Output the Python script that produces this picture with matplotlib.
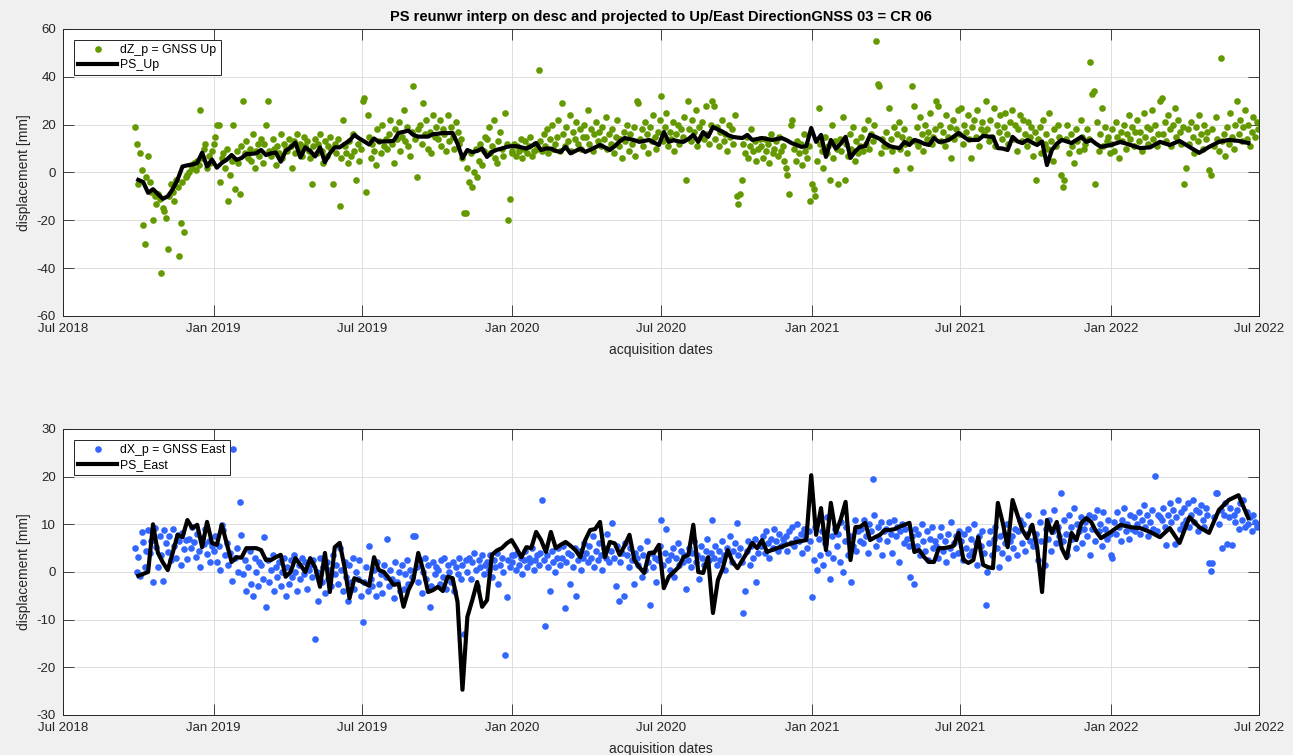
import numpy as np
import pandas as pd
import matplotlib
matplotlib.use('Agg')
import matplotlib.pyplot as plt
import matplotlib.dates as mdates


# GNSS solutions, one value every 2nd day, one list per year [mm]
gnss_up_2018 = [19, 12,
                -5, 8, 1, -22, -30, -2, 7, -4, -8, -20, -10, -13, -9, -11, -42, -15,
                -16, -19, -32, -10, -5, -8, -12, -3, -6, -35, -21, -4, -25, -2, -1,
                0, 3, 2, 4, 1, 5, 3, 26, 6, 10, 12, 2, 7, 4, 9]
gnss_up_2019 = [12, 15, 20, 20, -4, 6, 8, 2, 10, -12, -1, 5, 20, -7, 9, 4,
                -9, 11, 30, 8, 13, 6, 10, 5, 16, 2, 9, 12, 7, 14,
                4, 12, 20, 30, 9, 7, 14, 10, 3, 11, 8, 16, 6, 12, 10,
                9, 14, 11, 2, 13, 8, 16, 10, 12, 7, 15, 11, 13, 9, 6,
                -5, 11, 14, 8, 12, 16, 9, 4, 13, 7, 11, 15, 10, -5, 12, 8,
                14, -14, 6, 22, 11, 8, 4, 13, 7, 16, 9, -3, 12, 5, 10,
                30, 31, -8, 24, 15, 6, 12, 9, 3, 18, 13, 8, 20, 11, 14,
                10, 16, 22, 12, 4, 18, 14, 21, 9, 15, 26, 13, 19, 11, 7, 17,
                36, 14, -2, 18, 20, 12, 29, 16, 22, 10, 17, 8, 24, 15, 19,
                14, 22, 11, 18, 16, 9, 24, 13, 19, 15, 10, 21, 17, 12, 14,
                6, -17, -17, 2, -4, 8, -6, 0, 10, -2, 5, 12, 3, 9, 15,
                14, 19, 8, 11, 22, 6, 4, 13, 17, 10, 7, 25, 12, -20, -11, 9]
gnss_up_2020 = [8, 12, 7, 11, 9, 14, 6, 10, 13, 8, 11, 15, 7, 9, 12, 10,
                43, 13, 9, 16, 11, 18, 8, 14, 20, 10, 12, 15, 22, 9,
                29, 16, 11, 19, 13, 24, 9, 17, 14, 21, 12, 18, 10, 15, 20,
                15, 26, 12, 18, 9, 16, 21, 13, 17, 11, 19, 14, 23, 10, 16,
                12, 18, 8, 15, 22, 11, 14, 6, 17, 13, 20, 9, 16, 12, 19, 7,
                30, 29, 14, 18, 11, 21, 16, 8, 19, 13, 24, 15, 10, 17, 22,
                32, 13, 19, 25, 11, 17, 14, 21, 9, 16, 20, 12, 18, 15, 23,
                -3, 30, 18, 13, 22, 17, 26, 11, 19, 15, 21, 14, 28, 16, 12, 20,
                30, 28, 14, 19, 11, 17, 22, 13, 16, 9, 20, 15, 18, 12, 24,
                -10, -13, -9, -3, 12, 8, 15, 6, 11, 18, 9, 13, 5, 10, 14,
                11, 6, 14, 9, 12, 4, 16, 8, 10, 13, 7, 15, 9, 11, 5,
                2, -1, -9, 20, 22, 10, 5, 13, 8, 12, 3, 16, 9, 6, 11, -12]
gnss_up_2021 = [-5, -7, -10, 5, 27, 12, 9, 2, 15, 8, 11, -3, 20, 6, 13, 10,
                -5, 14, 9, 23, -3, 12, 7, 16, 10, 19, 5, 13, 8, 11,
                15, 9, 18, 12, 22, 10, 16, 13, 20, 55, 37, 36, 8, 14, 11,
                17, 11, 27, 14, 9, 19, 1, 16, 21, 10, 15, 18, 12, 8, 14,
                2, 36, 28, 13, 19, 11, 23, 16, 9, 20, 14, 17, 25, 12, 15, 18,
                30, 28, 20, 13, 17, 11, 24, 15, 19, 6, 22, 14, 18, 26, 16,
                27, 12, 20, 17, 24, 14, 6, 19, 22, 15, 26, 11, 18, 21, 16,
                30, 18, 13, 22, 15, 27, 11, 20, 17, 24, 14, 19, 25, 16, 12, 21,
                26, 14, 20, 9, 18, 24, 13, 22, 16, 11, 21, 15, 19, 7, 17,
                -3, 14, 19, 8, 22, 12, 16, 10, 25, 13, 5, 18, 11, 20, 15,
                -1, -6, -3, 14, 20, 8, 16, 11, 4, 18, 13, 9, 22, 15, 10,
                12, 18, 14, 46, 33, 34, -5, 21, 9, 16, 27, 11, 19, 13, 15, 8]
gnss_up_2022 = [12, 18, 9, 21, 15, 6, 17, 13, 20, 10, 16, 24, 14, 19, 11, 17,
                22, 13, 17, 9, 25, 15, 19, 12, 18, 26, 14, 20, 11, 16,
                30, 31, 16, 21, 13, 24, 18, 11, 20, 27, 15, 22, 17, 12, 19,
                -5, 2, 18, 12, 21, 15, 8, 19, 13, 24, 16, 10, 20, 14, 17,
                1, -1, 18, 11, 23, 14, 9, 48, 13, 16, 7, 19, 12, 25, 15, 10,
                20, 30, 16, 22, 13, 19, 26, 14, 20, 11, 17, 23, 15, 21, 18]

gnss_east_2018 = [5.0, 0.0,
                  3.1, -0.8, 8.4, 6.3, 1.0, 4.5, 8.8, 4.0, 6.5, -2.1, 9.2, 5.2, 1.0, 7.5, 3.5, -1.8,
                  8.8, 6.0, 4.2, 7.5, 2.5, 9.0, 5.5, 3.0, 7.8, 6.5, 1.5, 8.2, 4.8, 6.8, 2.8,
                  7.0, 5.0, 9.5, 6.2, 3.2, 8.0, 4.5, 1.0, 7.2, 5.8, 9.0, 3.8, 6.5, 2.0, 5.5]
gnss_east_2019 = [4.5, 7.5, 2.0, 5.5, 0.5, 9.8, 8.8, 3.5, 6.0, 1.5, 4.0, -1.8, 25.8, 3.0, 5.0, 0.0,
                  14.7, 7.8, -0.5, 2.5, -4.0, 1.0, 4.5, -2.5, -5.0, 3.0, 0.0, -3.0, 2.0, 1.5,
                  -1.5, 7.3, -7.3, 2.5, -2.0, 0.5, 3.5, -4.0, 1.0, -1.0, 2.0, -3.0, 0.0, 3.0, -5.0,
                  1.0, -2.5, 2.5, -1.0, 3.5, 0.0, -4.0, 1.5, -1.5, 3.0, -0.5, 2.0, -3.5, 0.5, 1.5,
                  -1.0, 2.5, -14.0, 0.0, -6.0, 3.0, -2.0, 1.0, -4.5, 2.0, -1.5, 0.5, -3.0, 3.5, -0.5, 1.5,
                  -2.5, 5.0, 0.5, -4.0, 2.0, -1.0, -6.0, 1.5, -2.0, 3.0, -3.5, 0.0, -1.5, 2.5, -5.0,
                  -10.5, -2.0, 1.0, -4.0, 5.5, -1.5, -3.0, 0.5, -5.0, 2.0, -2.5, -0.5, -4.5, 1.5, -1.0,
                  7.0, -3.0, 0.5, -1.5, -5.5, 2.0, -2.0, 0.0, -4.0, 1.5, -3.5, -0.5, 2.5, -2.5, 0.5, -1.0,
                  7.5, 7.5, 1.0, -2.0, 2.5, -4.5, 0.0, 3.0, -1.5, 1.5, -7.3, -3.0, 2.0, -0.5, 1.0,
                  0.5, -2.5, 2.5, -1.0, 3.0, -3.5, 1.5, 0.0, -2.0, 2.0, -4.0, 1.0, -0.5, 3.0, -1.5,
                  1.5, -13.0, 2.5, 0.0, 3.0, -1.5, 2.0, 4.0, 0.5, -3.0, 2.5, 1.0, 3.5, -0.5, 1.5,
                  2.0, 0.5, 3.5, -1.0, 2.5, 1.0, 4.0, -2.5, 1.5, 3.0, 0.0, -17.4, -5.2, 2.5, 1.0, 3.5]
gnss_east_2020 = [2.0, 3.5, 0.5, 4.0, 1.5, 3.0, -0.5, 2.5, 4.5, 1.0, 3.0, 2.0, 5.0, 0.5, 2.5, 3.5,
                  1.5, 4.0, 15.1, 2.5, -11.3, 3.5, 1.0, -4.0, 4.5, 2.0, 0.0, 3.0, 5.0, 1.5,
                  3.0, 5.5, -7.6, 2.0, 4.0, -2.5, 3.5, 1.0, 5.0, -5.0, 2.5, 4.5, 0.5, 3.0, 6.0,
                  4.0, 2.0, 5.5, 3.0, 7.5, 1.0, 4.5, 2.5, 6.0, 3.5, 0.5, 5.0, 3.0, 8.0, 2.0,
                  4.5, 10.3, 3.0, -3.0, 5.5, -6.0, 2.0, 4.0, -5.0, 6.0, 3.5, 1.0, 5.0, 2.5, -2.5, 4.0,
                  3.0, 1.5, 5.0, -1.0, 3.5, 0.5, 6.5, 2.0, -6.9, 4.0, 1.0, 3.0, -2.0, 2.5, 5.5,
                  10.9, 1.5, 4.0, 9.0, 2.5, 0.5, 3.5, 5.0, -1.0, 3.0, 6.0, 1.5, 4.5, 2.0, 3.5,
                  -3.5, 2.5, 5.0, 1.0, 4.0, 6.5, 2.0, 3.5, -1.5, 5.5, 3.0, 1.5, 4.5, 7.0, 2.5, 4.0,
                  10.9, 3.0, 5.5, 1.5, 4.5, 2.5, 6.5, 3.5, 0.5, 5.0, 4.0, 7.5, 2.0, 4.5, 6.0,
                  10.3, 3.5, 5.0, 2.0, -8.6, -4.0, 4.5, 6.5, 1.5, 5.5, 3.0, 7.0, -2.0, 4.0, 6.0,
                  5.5, 7.5, 4.0, 8.5, 6.0, 3.0, 7.0, 5.0, 9.0, 6.5, 4.5, 8.0, 5.5, 7.0, 6.0,
                  7.5, 4.5, 8.5, 6.0, 9.5, 5.5, 7.0, 10.0, 6.5, 8.0, 4.0, 9.0, 7.5, 5.0, 8.5, 6.5]
gnss_east_2021 = [-5.2, 2.5, 9.5, 0.5, 7.0, 3.5, 8.5, 1.5, 6.0, 11.5, 4.0, -1.5, 7.5, 3.0, 9.0, 5.5,
                  8.0, 2.0, 10.5, 0.0, 6.5, 9.5, 3.5, 7.5, -2.0, 5.5, 11.0, 4.5, 8.5, 6.5,
                  9.0, 6.0, 11.0, 7.5, 4.0, 10.0, 8.5, 19.5, 12.0, 5.5, 9.5, 7.0, 10.5, 3.5, 8.5,
                  9.0, 6.5, 10.5, 8.0, 4.0, 11.0, 7.5, 9.5, 2.0, 8.5, 10.0, 6.0, 9.0, 7.0, 5.5,
                  -1.0, 7.5, -2.5, 9.0, 5.5, 8.0, 3.5, 10.0, 6.5, 4.5, 8.5, 2.5, 7.0, 9.5, 5.0, 6.5,
                  5.5, 3.0, 7.5, 9.5, 4.5, 6.5, 2.0, 8.0, 5.0, 10.5, 3.5, 6.0, 7.5, 4.0, 8.5,
                  6.5, 2.5, 8.0, 5.0, 9.0, 3.5, 7.0, 4.5, 10.0, 6.0, 1.5, 7.5, 5.5, 8.5, 4.0,
                  -7.0, 0.0, 6.0, 8.5, 3.5, 7.0, 9.5, 5.0, 1.0, 7.5, 4.0, 8.0, 6.0, 10.0, 3.0, 6.5,
                  7.5, 5.0, 9.0, 3.5, 8.5, 11.0, 6.0, 10.0, 4.5, 8.0, 12.0, 6.5, 9.5, 5.5, 7.0,
                  8.0, 2.5, 10.5, 6.5, 12.5, 1.5, 9.0, 7.0, 11.0, 4.5, 8.5, 13.0, 6.0, 9.5, 7.5,
                  16.6, 6.5, 11.0, 8.0, 3.5, 12.0, 9.5, 7.0, 13.5, 5.0, 10.0, 8.5, 11.5, 6.0, 9.0,
                  10.5, 7.5, 12.0, 3.5, 9.0, 11.5, 6.5, 13.0, 8.5, 10.0, 5.5, 12.5, 9.0, 7.0, 11.0, 8.0]
gnss_east_2022 = [3.5, 3.0, 10.5, 8.0, 12.5, 9.5, 6.5, 11.0, 13.5, 8.5, 10.0, 7.0, 12.0, 9.0, 11.5, 8.5,
                  10.0, 12.5, 8.0, 11.0, 14.0, 9.5, 12.0, 7.5, 10.5, 13.0, 9.0, 20.1, 8.5, 12.0,
                  11.5, 11.0, 13.5, 9.5, 5.7, 12.0, 14.5, 10.5, 13.0, 5.9, 11.5, 15.0, 9.0, 12.5, 10.0,
                  13.5, 11.0, 14.5, 9.5, 12.0, 15.0, 10.5, 13.0, 8.5, 12.5, 14.0, 11.0, 9.5, 13.5, 12.0,
                  1.9, 0.2, 1.9, 11.5, 16.5, 16.5, 10.0, 13.0, 5.0, 12.0, 14.5, 5.9, 11.5, 13.5, 5.7, 12.0,
                  10.5, 13.0, 9.0, 14.5, 11.0, 15.0, 9.5, 12.5, 10.0, 11.5, 8.5, 12.0, 10.5, 9.5, 10.0]

gnss_year_start = ['2018-09-27', '2019-01-01', '2020-01-01', '2021-01-01', '2022-01-01']

# PS time series: 6 day repeat (S1A+S1B) until Dec 2021, 12 day afterwards
ps_start_6d = '2018-10-01'
ps_start_12d = '2022-01-01'

ps_up_6d = [-3.1, -4, -8.5, -7, -9, -11, -10, -7, -3, 2.5, 3, 3.3, 4, 8.3, 2.5, 5.4,
            2, 4, 5.3, 7.3, 5.3, 6, 7.7, 7.8, 8, 9.4, 7.3, 8, 8.3, 4.5, 9, 10.5,
            12.5, 6.3, 10.5, 9, 6.7, 10.5, 4.3, 8, 10.5, 10.5, 12, 13.3, 15.7, 14.2, 13, 11.7,
            14.2, 12.8, 13, 13, 13.3, 16.5, 17, 17.5, 15.7, 15, 15, 15, 16, 16.2, 16.5, 16.5,
            16.5, 12, 6, 9.4, 8.5, 9, 10, 6.5, 8.6, 9.5, 10, 10.7, 11, 11, 10.5, 10,
            11, 12.3, 9.4, 10, 10, 9, 8.6, 10.7, 8, 9, 10, 8.6, 9.5, 10.5, 11.5, 10.5,
            9.4, 11, 13, 14.4, 14, 13.5, 12.8, 13.2, 13.6, 12.5, 11.5, 16.9, 12.8, 13.5, 13, 12.8,
            14, 15.7, 12.8, 16.9, 14.9, 19, 18, 17, 15.7, 14.9, 14.6, 14.4, 15.7, 13.6, 14, 14.4,
            14, 13.6, 14, 14.4, 13.5, 12.3, 11.5, 10.7, 11, 18.6, 12.8, 15.7, 6.5, 13.6, 10, 12,
            14.9, 6.1, 9, 10.7, 11, 15.7, 15, 14, 12.3, 11, 10.5, 10.2, 12.8, 11.5, 13.6, 13,
            12, 11.5, 14.4, 12.8, 13, 13.6, 15, 16.5, 15, 13.6, 13.6, 13.6, 15.3, 15, 14.9, 10.2,
            10, 9.4, 14.9, 13, 12.3, 13.6, 12.5, 11.5, 13, 3.1, 9.4, 12, 13.6, 13, 12.3, 13.6,
            14.9, 12.8, 13.6, 12, 10.7]
ps_up_12d = [11.5, 12.8, 11.5, 10.2, 10.5, 12.8, 11.5, 13.2, 10.7, 8.2, 10.7, 12.8, 13.6, 13.2, 12.3]

ps_east_6d = [-0.8, -0.4, 0, 10, 4, 2, 0.4, 4, 7.8, 7.3, 10.9, 9.2, 9.9, 5.2, 10.5, 6.1,
              5.7, 9.9, 6, 2.1, 3.1, 3, 5, 5, 5, 4.6, 2.5, 2.5, 3.1, 3.6, -1, 0,
              2.9, 1.5, 0, 2.9, 1, -3.1, 4, -4.2, 5.2, 6.1, 1, -5.5, -1.3, -1.8, -2.3, -2.9,
              3.1, 0.4, 0, -1.3, -2.7, -2.5, -7.3, -3.8, -1.7, 4, 0.4, -4.2, -3.8, -3.1, -4, -1,
              -1.3, -6.3, -24.7, -9.4, -5.9, -2.1, -7.3, -5.9, 3.6, 4.5, 5, 6, 6.7, 5, 3.1, 5.2,
              5, 8.4, 6.7, 4.2, 8.4, 5, 5.7, 6.3, 5.5, 4.6, 3.1, 6.7, 8.8, 9, 10.5, 3.1,
              6.3, 6, 3.6, 5.5, 7.8, 2.5, 1, -0.2, 4, 4, 5.7, -3.4, -1, 0, 1, 3.1,
              3.6, 9.9, 0, -0.2, 3.1, -8.6, -1.7, 0.8, 4.6, 2.1, 0.8, 2.5, 4.2, 6.1, 5, 6.7,
              4.2, 4.6, 5, 5.3, 5.7, 6, 6.3, 6.5, 6.7, 20.3, 7.8, 13.4, 4.6, 14.5, 8.2, 11,
              14.7, 2.5, 9.4, 9.5, 10.3, 6.7, 7.3, 7.8, 8.8, 8.8, 9, 9.5, 9.9, 10.3, 4.2, 4.6,
              3.1, 2.1, 2.1, 5, 5, 5.2, 5.5, 8.2, 2.5, 1.9, 2.5, 7.3, 1.5, 1, 0.8, 14.5,
              10.3, 5.2, 15.1, 11.9, 8.8, 7.1, 9.9, 5.2, -4.2, 10.9, 8.2, 10.5, 5, 2.9, 8.2, 6.7,
              10.3, 11.3, 10.5, 8.5, 7.1]
ps_east_12d = [8.4, 9.9, 9.4, 9.2, 8.4, 7.3, 9.2, 6.1, 11.5, 9.4, 8.2, 13, 15.1, 16.1, 11.3]

title = 'PS reunwr interp on desc and projected to Up/East DirectionGNSS 03 = CR 06'
green = '#659900'
blue = '#3366FF'
dark = '#262626'

plt.rcParams['font.family'] = ['Liberation Sans', 'DejaVu Sans']
plt.rcParams['axes.unicode_minus'] = False


def every_n_days(start, n, step):
    return pd.Timestamp(start) + pd.to_timedelta(np.arange(n) * step, unit='D')


def gnss_series(years):
    dates = [every_n_days(s, len(v), 2) for s, v in zip(gnss_year_start, years)]
    return np.concatenate([d.values for d in dates]), np.concatenate(years)


def ps_series(v6, v12):
    d = np.concatenate([every_n_days(ps_start_6d, len(v6), 6).values,
                        every_n_days(ps_start_12d, len(v12), 12).values])
    return d, np.array(v6 + v12, dtype=float)


up_t, up_v = gnss_series([gnss_up_2018, gnss_up_2019, gnss_up_2020, gnss_up_2021, gnss_up_2022])
east_t, east_v = gnss_series([gnss_east_2018, gnss_east_2019, gnss_east_2020,
                              gnss_east_2021, gnss_east_2022])
ps_up_t, ps_up_v = ps_series(ps_up_6d, ps_up_12d)
ps_east_t, ps_east_v = ps_series(ps_east_6d, ps_east_12d)

fig = plt.figure(figsize=(12.93, 7.55), dpi=100, facecolor='#f0f0f0')
ax1 = fig.add_axes([0.0487, 0.5815, 0.925, 0.3801])
ax2 = fig.add_axes([0.0487, 0.0530, 0.925, 0.3788])

panels = [
    (ax1, up_t, up_v, ps_up_t, ps_up_v, green, 'dZ_p = GNSS Up', 'PS_Up', (-60, 60), 20),
    (ax2, east_t, east_v, ps_east_t, ps_east_v, blue, 'dX_p = GNSS East', 'PS_East', (-30, 30), 10),
]

for ax, gt, gv, pt, pv, col, glab, plab, ylim, ystep in panels:
    ax.plot(gt, gv, 'o', color=col, ms=4.8, mew=0, label=glab, zorder=2)
    ax.plot(pt, pv, '-', color='k', lw=3, label=plab, zorder=3)

    ax.set_xlim(pd.Timestamp('2018-07-01'), pd.Timestamp('2022-07-01'))
    ax.set_ylim(*ylim)
    ax.set_yticks(np.arange(ylim[0], ylim[1] + 1, ystep))
    ax.xaxis.set_major_locator(mdates.MonthLocator(bymonth=[1, 7]))
    ax.xaxis.set_major_formatter(mdates.DateFormatter('%b %Y'))

    ax.grid(True, color='#dfdfdf', lw=0.7)
    ax.set_axisbelow(True)
    ax.tick_params(direction='in', length=8, width=0.6, colors=dark, labelsize=9.5,
                   top=True, right=True, pad=5)
    for s in ax.spines.values():
        s.set_color(dark)
        s.set_linewidth(0.7)

    ax.set_xlabel('acquisition dates', fontsize=10, color=dark, labelpad=6)
    ax.set_ylabel('displacement [mm]', fontsize=10, color=dark, labelpad=4)

    leg = ax.legend(loc='upper left', bbox_to_anchor=(0.0092, 0.963), borderaxespad=0,
                    fontsize=8.8, fancybox=False, framealpha=1, edgecolor=dark,
                    handlelength=3.2, handletextpad=0.25, borderpad=0.35,
                    labelspacing=0.25, numpoints=1)
    leg.get_frame().set_linewidth(0.7)

ax1.set_title(title, fontsize=10.5, fontweight='bold', color='k', pad=6)

fig.savefig('out.png', dpi=100, facecolor=fig.get_facecolor())
